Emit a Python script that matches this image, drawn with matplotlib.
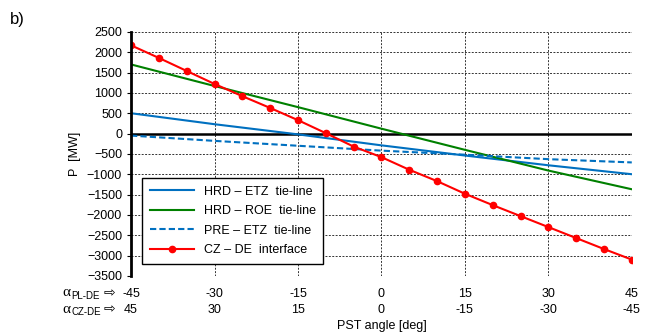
import numpy as np
import matplotlib
matplotlib.use("Agg")
from matplotlib import pyplot as plt

plt.rcParams['font.family'] = ['Liberation Sans', 'DejaVu Sans']

# PST angle (alpha PL-DE) in degrees
angle_line = [-45, -30, -15, 0, 15, 30, 45]
angle_pts = [-45, -40, -35, -30, -25, -20, -15, -10, -5, 0, 5, 10, 15, 20, 25, 30, 35, 40, 45]

hrd_etz = [500, 230, -20, -290, -540, -780, -1000]
hrd_roe = [1700, 1170, 650, 120, -400, -910, -1370]
pre_etz = [-50, -180, -300, -420, -520, -630, -710]
cz_de = [2170, 1860, 1540, 1220, 920, 630, 330, 10, -320, -580, -890, -1170,
         -1480, -1760, -2030, -2300, -2570, -2840, -3100]

xticks = [-45, -30, -15, 0, 15, 30, 45]
xlabels = ["%d\n%d" % (v, -v) for v in xticks]

fig = plt.figure(figsize=(6.52, 3.36), dpi=100)
ax = fig.add_axes([0.201, 0.179, 0.768, 0.726])

ax.plot(angle_line, hrd_etz, color='#0070C0', lw=1.5, label='HRD – ETZ  tie-line')
ax.plot(angle_line, hrd_roe, color='#008000', lw=1.5, label='HRD – ROE  tie-line')
ax.plot(angle_line, pre_etz, color='#0070C0', lw=1.5, ls=(0, (3, 1.5)), label='PRE – ETZ  tie-line')
ax.plot(angle_pts, cz_de, color='#FF0000', lw=1.5, marker='o', ms=4.5, label='CZ – DE  interface')

ax.axhline(0, color='black', lw=1.8, zorder=1)

ax.set_xlim(-45, 45)
ax.set_ylim(-3500, 2500)
ax.set_yticks(np.arange(-3500, 2501, 500))
ax.set_xticks(xticks)
ax.set_xticklabels(xlabels, linespacing=1.45)
ax.grid(True, color='black', ls=(0, (2, 1.5)), lw=0.7, alpha=0.8)
ax.set_axisbelow(True)

for s in ['top', 'right', 'bottom']:
    ax.spines[s].set_visible(False)
ax.spines['left'].set_linewidth(2)
ax.tick_params(axis='both', labelsize=9, length=3, width=0.8)
ax.tick_params(axis='x', length=0, pad=9)

ax.set_ylabel('P  [MW]', fontsize=9)
ax.text(0.5, -0.18, 'PST angle [deg]', transform=ax.transAxes, ha='center', va='top', fontsize=9)

# row captions for the two x-axis scales
for yy, sub in [(-0.07, 'PL-DE'), (-0.137, 'CZ-DE')]:
    ax.text(-0.138, yy, 'α', transform=ax.transAxes, ha='left', va='center',
            fontsize=11, family=['Liberation Serif'])
    ax.text(-0.119, yy - 0.012, sub, transform=ax.transAxes, ha='left', va='center', fontsize=7)
    ax.text(-0.044, yy, '⇨', transform=ax.transAxes, ha='center', va='center',
            fontsize=10, family=['DejaVu Sans'])

fig.text(0.015, 0.965, 'b)', fontsize=12, va='top', ha='left')

leg = ax.legend(loc='lower left', bbox_to_anchor=(0.01, 0.025), fontsize=9, fancybox=False,
                framealpha=1, edgecolor='black', handlelength=3.5, borderpad=0.6, labelspacing=0.6)
leg.get_frame().set_linewidth(1.0)

fig.savefig('out.png', dpi=100)
